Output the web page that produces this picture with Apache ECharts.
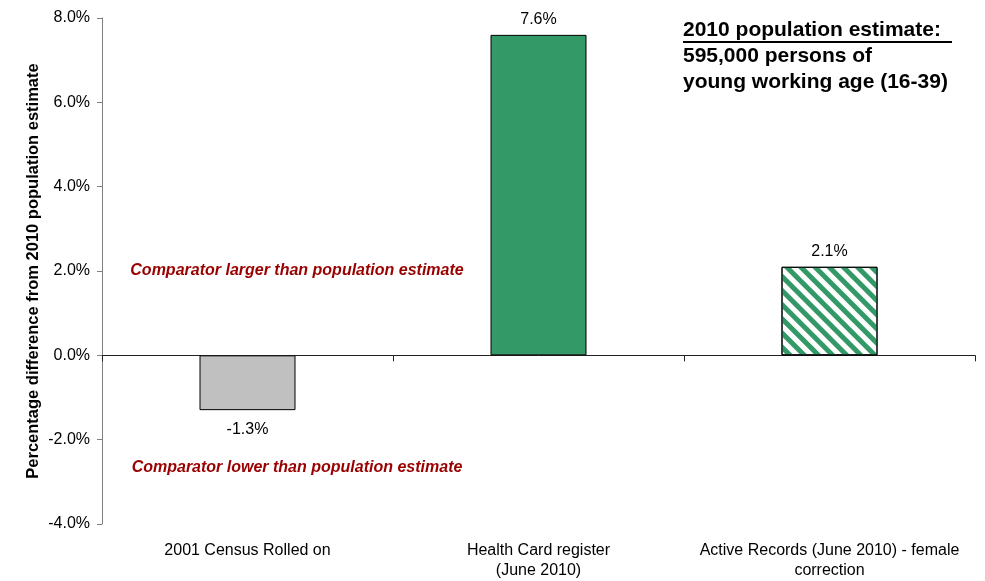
<!DOCTYPE html>
<html>
<head>
<meta charset="utf-8">
<script src="https://cdn.jsdelivr.net/npm/echarts@6/dist/echarts.min.js"></script>
<style>html,body{margin:0;padding:0;background:#fff}#c{width:985px;height:581px}</style>
</head>
<body>
<div id="c"></div>
<script>
var categories = ['2001 Census Rolled on', 'Health Card register\n(June 2010)', 'Active Records (June 2010) - female\ncorrection'];
var values = [-1.3, 7.6, 2.1];
var yTicks = {min: -4, max: 8, interval: 2};
var titleLines = ['2010 population estimate:', '595,000 persons of', 'young working age (16-39)'];
var noteAbove = 'Comparator larger than population estimate';
var noteBelow = 'Comparator lower than population estimate';
var yName = 'Percentage difference from 2010 population estimate';

var FONT = 'Liberation Sans, Arial, sans-serif';
var chart = echarts.init(document.getElementById('c'), null, {renderer: 'canvas'});

var barStyles = [
  {color: '#C0C0C0', borderColor: '#000', borderWidth: 1},
  {color: '#339966', borderColor: '#000', borderWidth: 1},
  {color: '#ffffff', borderColor: '#000', borderWidth: 1,
   decal: {symbol: 'rect', symbolSize: 1, dashArrayX: [[1, 0]], dashArrayY: [5, 5], rotation: Math.PI / 4, color: '#339966'}}
];

var data = values.map(function (v, i) {
  return {
    value: v,
    itemStyle: barStyles[i],
    label: {position: v < 0 ? 'bottom' : 'top', distance: v < 0 ? 11 : 7}
  };
});

chart.setOption({
  animation: false,
  textStyle: {fontFamily: FONT},
  grid: {left: 102, right: 10, top: 18, bottom: 56, containLabel: false},
  xAxis: [
    {
      type: 'category', data: categories, position: 'bottom',
      axisLine: {show: false, onZero: false},
      axisTick: {show: false},
      axisLabel: {color: '#000', fontSize: 16, fontFamily: FONT, margin: 17, lineHeight: 20, interval: 0}
    },
    {
      type: 'category', data: categories, position: 'bottom',
      axisLine: {show: true, onZero: true, lineStyle: {color: '#222', width: 1}},
      axisTick: {show: true, length: 6, lineStyle: {color: '#222'}},
      axisLabel: {show: false}
    }
  ],
  yAxis: {
    type: 'value', min: yTicks.min, max: yTicks.max, interval: yTicks.interval,
    name: yName, nameLocation: 'middle', nameGap: 60, nameRotate: 90, nameMoveOverlap: false,
    nameTextStyle: {fontSize: 16.5, fontWeight: 'bold', color: '#000', fontFamily: FONT},
    axisLine: {show: true, lineStyle: {color: '#808080', width: 1}},
    axisTick: {show: true, length: 5, lineStyle: {color: '#808080'}},
    splitLine: {show: false},
    axisLabel: {color: '#000', fontSize: 16, fontFamily: FONT, margin: 12,
      formatter: function (v) { return v.toFixed(1) + '%'; }}
  },
  series: [{
    type: 'bar', xAxisIndex: 0, barWidth: 96, data: data,
    label: {show: true, color: '#000', fontSize: 16, fontFamily: FONT,
      formatter: function (p) { return p.value.toFixed(1) + '%'; }}
  }],
  graphic: [
    {type: 'text', left: 683, top: 20, style: {text: titleLines[0], font: 'bold 21px ' + FONT, fill: '#000'}},
    {type: 'line', shape: {x1: 683, y1: 42, x2: 952, y2: 42}, style: {stroke: '#000', lineWidth: 2}},
    {type: 'text', left: 683, top: 46, style: {text: titleLines[1], font: 'bold 21px ' + FONT, fill: '#000'}},
    {type: 'text', left: 683, top: 72, style: {text: titleLines[2], font: 'bold 21px ' + FONT, fill: '#000'}},
    {type: 'text', x: 297, y: 271, style: {text: noteAbove, font: 'italic bold 16px ' + FONT, fill: '#990000', align: 'center', verticalAlign: 'middle'}},
    {type: 'text', x: 297, y: 468, style: {text: noteBelow, font: 'italic bold 16px ' + FONT, fill: '#990000', align: 'center', verticalAlign: 'middle'}}
  ]
});
</script>
</body>
</html>
